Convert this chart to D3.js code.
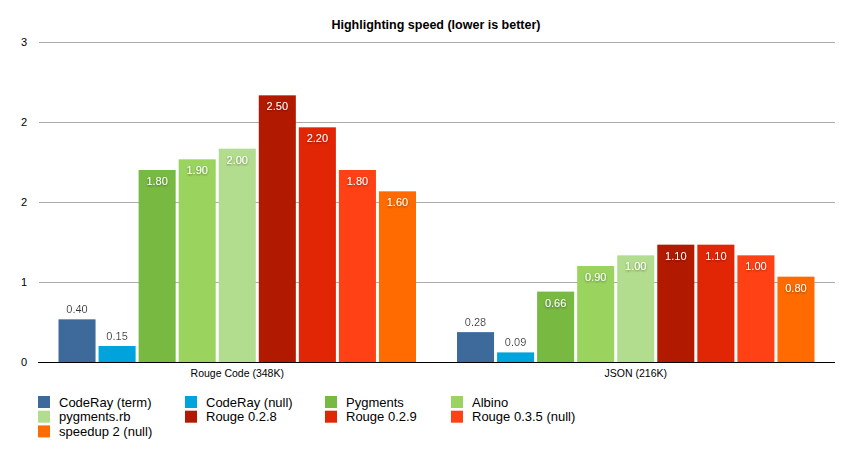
<!DOCTYPE html>
<html>
<head>
<meta charset="utf-8">
<script src="https://cdn.jsdelivr.net/npm/d3@7/dist/d3.min.js"></script>
<style>
  html, body { margin: 0; padding: 0; background: #fff; }
  svg { display: block; font-family: "Liberation Sans", Arial, Helvetica, sans-serif; }
</style>
</head>
<body>
<svg id="chart" width="850" height="456"></svg>
<script>
const categories = ["Rouge Code (348K)", "JSON (216K)"];
const seriesNames = ["CodeRay (term)", "CodeRay (null)", "Pygments", "Albino", "pygments.rb", "Rouge 0.2.8", "Rouge 0.2.9", "Rouge 0.3.5 (null)", "speedup 2 (null)"];
const seriesColors = ["#3d6a9b", "#00a3db", "#77b941", "#9ad45f", "#b3dd8e", "#b21a00", "#e12605", "#ff4115", "#ff6b00"];
const valuesRouge = [0.40, 0.15, 1.80, 1.90, 2.00, 2.50, 2.20, 1.80, 1.60];
const valuesJSON = [0.28, 0.09, 0.66, 0.90, 1.00, 1.10, 1.10, 1.00, 0.80];
const yTicks = [0, 0.75, 1.5, 2.25, 3];
const title = "Highlighting speed (lower is better)";

const data = categories.map((c, i) => ({
  category: c,
  values: (i === 0 ? valuesRouge : valuesJSON).map((v, j) => ({ series: seriesNames[j], value: v, color: seriesColors[j] }))
}));

const svg = d3.select("#chart");
const pLeft = 38, pRight = 835, pTop = 42, pBottom = 362;

const y = d3.scaleLinear().domain([0, 3]).range([pBottom, pTop]);
const x0 = d3.scaleBand().domain(categories).range([pLeft, pRight]).paddingInner(0).paddingOuter(0);
const gw = x0.bandwidth();
const x1 = d3.scaleBand().domain(seriesNames).range([19, gw - 19]).paddingInner(0.075).paddingOuter(0.0375);

// title
svg.append("text").attr("x", 436).attr("y", 29).attr("text-anchor", "middle")
  .attr("font-size", 12.5).attr("font-weight", "bold").attr("fill", "#000").text(title);

// gridlines
const yAxis = d3.axisLeft(y).tickValues(yTicks).tickSize(-(pRight - pLeft - 1)).tickPadding(12).tickFormat(d3.format(".0f"));
const gy = svg.append("g").attr("transform", `translate(${pLeft + 1},0)`).call(yAxis);
gy.select(".domain").remove();
gy.selectAll(".tick line").attr("stroke", "#aaaaaa").attr("stroke-width", 1);
gy.selectAll(".tick text").attr("font-size", 11).attr("fill", "#000").attr("font-family", "Liberation Sans, Arial, sans-serif");
gy.selectAll(".tick").filter(d => d === 0).select("line").attr("stroke", "none");

// bars
const groups = svg.append("g").selectAll("g").data(data).join("g")
  .attr("transform", d => `translate(${x0(d.category)},0)`);

groups.selectAll("rect").data(d => d.values).join("rect")
  .attr("x", d => x1(d.series))
  .attr("y", d => y(d.value))
  .attr("width", x1.bandwidth())
  .attr("height", d => y(0) - y(d.value))
  .attr("fill", d => d.color);

const defs = svg.append("defs");
const f = defs.append("filter").attr("id", "shadow").attr("x", "-20%").attr("y", "-20%").attr("width", "140%").attr("height", "140%");
f.append("feDropShadow").attr("dx", 0).attr("dy", 1).attr("stdDeviation", 0.8).attr("flood-color", "#000").attr("flood-opacity", 0.45);
const f2 = defs.append("filter").attr("id", "shadow2").attr("x", "-20%").attr("y", "-20%").attr("width", "140%").attr("height", "140%");
f2.append("feDropShadow").attr("dx", 0).attr("dy", 1).attr("stdDeviation", 0.8).attr("flood-color", "#fff").attr("flood-opacity", 0.9);

const inside = d => y(0) - y(d.value) > 55;
groups.selectAll("text.val").data(d => d.values).join("text")
  .attr("class", "val")
  .attr("x", d => x1(d.series) + x1.bandwidth() / 2)
  .attr("y", d => (inside(d) ? y(d.value) + 15 : y(d.value) - 6))
  .attr("text-anchor", "middle")
  .attr("font-size", 11)
  .attr("fill", d => (inside(d) ? "#fff" : "#333"))
  .attr("filter", d => (inside(d) ? "url(#shadow)" : "url(#shadow2)"))
  .text(d => d3.format(".2f")(d.value));

// baseline
svg.append("line").attr("x1", pLeft).attr("x2", pRight).attr("y1", pBottom + 0.5).attr("y2", pBottom + 0.5)
  .attr("stroke", "#000").attr("stroke-width", 1);

// category labels
svg.append("g").selectAll("text").data(categories).join("text")
  .attr("x", d => x0(d) + gw / 2).attr("y", 377).attr("text-anchor", "middle")
  .attr("font-size", 10.5).attr("fill", "#000").text(d => d);

// legend
const colX = [38, 185, 325, 451];
const legend = svg.append("g").selectAll("g").data(seriesNames).join("g")
  .attr("transform", (d, i) => `translate(${colX[i % 4]},${396 + Math.floor(i / 4) * 14.7})`);
legend.append("rect").attr("width", 12).attr("height", 12).attr("fill", (d, i) => seriesColors[i]);
legend.append("text").attr("x", 21).attr("y", 10.5).attr("font-size", 13).attr("fill", "#000").text(d => d);
</script>
</body>
</html>
